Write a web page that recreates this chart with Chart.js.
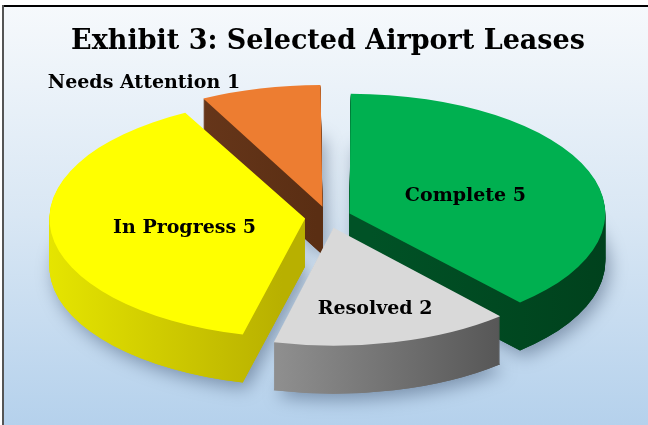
<!DOCTYPE html>
<html><head><meta charset="utf-8">
<style>html,body{margin:0;padding:0;background:#fff;overflow:hidden}canvas{display:block}</style>
<script src="https://cdn.jsdelivr.net/npm/chart.js@4.4.1/dist/chart.umd.min.js"></script>
</head><body>
<canvas id="c" width="648" height="425"></canvas>
<script>
// ---- data ----
const categories = ['Complete', 'Resolved', 'In Progress', 'Needs Attention'];
const leaseCounts = [5, 2, 5, 1];
const titleText = 'Exhibit 3: Selected Airport Leases';

// ---- style ----
const topColors = ['#00b050', '#d9d9d9', '#ffff00', '#ed7d31'];
const sideColors = [['#005226', '#00401c'], ['#8e8e8e', '#565656'], ['#e8e800', '#b8b000'], ['#66361a', '#5a2e13']];
const labelRadius = [0.5, 0.7, 0.49, null];
const FONT = '"DejaVu Serif"';
const DEPTH = 48, SQUASH = 0.468;

function midAngle(el) { return (el.startAngle + el.endAngle) / 2; }
function explode(el) { return (el.options.offset || 0) / 4; }
function squash(ctx, cx, cy) { ctx.translate(cx, cy); ctx.scale(1, SQUASH); ctx.translate(-cx, -cy); }

const bgPlugin = {
  id: 'bg',
  beforeDraw(chart) {
    const ctx = chart.ctx, w = chart.width, h = chart.height;
    ctx.save();
    ctx.fillStyle = '#fff'; ctx.fillRect(0, 0, w, h);
    const g = ctx.createLinearGradient(0, 6, 0, h);
    g.addColorStop(0, '#f6f9fc'); g.addColorStop(0.5, '#d9e7f4'); g.addColorStop(1, '#b5d1ec');
    ctx.fillStyle = g; ctx.fillRect(2, 5, w - 2, h - 5);
    ctx.fillStyle = '#000'; ctx.fillRect(2, 5, w - 2, 2);
    ctx.fillStyle = '#555'; ctx.fillRect(2, 5, 2, h - 5);
    ctx.restore();
  }
};

const pie3d = {
  id: 'pie3d',
  beforeDatasetsDraw(chart) {
    const ctx = chart.ctx;
    const els = chart.getDatasetMeta(0).data;
    const cx = els[0].x, cy = els[0].y;
    const fakes = els.map((el, i) => {
      const e = explode(el), m = midAngle(el);
      const ox = el.x + Math.cos(m) * e;
      let xmin = ox, xmax = ox;
      for (let k = 0; k <= 40; k++) {
        const a = el.startAngle + (el.endAngle - el.startAngle) * k / 40;
        const x = ox + Math.cos(a) * el.outerRadius;
        xmin = Math.min(xmin, x); xmax = Math.max(xmax, x);
      }
      const g = ctx.createLinearGradient(xmin, 0, xmax, 0);
      g.addColorStop(0, sideColors[i][0]); g.addColorStop(1, sideColors[i][1]);
      const f = Object.create(el);
      f.options = Object.assign({}, el.options, { backgroundColor: g, borderWidth: 0 });
      return f;
    });
    const order = els.map((el, i) => i).sort((a, b) => Math.sin(midAngle(els[a])) - Math.sin(midAngle(els[b])));
    for (const i of order) {
      ctx.save();
      ctx.shadowColor = 'rgba(40,60,90,0.45)'; ctx.shadowBlur = 18; ctx.shadowOffsetX = 4; ctx.shadowOffsetY = 6;
      ctx.translate(0, DEPTH); squash(ctx, cx, cy);
      fakes[i].draw(ctx);
      ctx.restore();
    }
    for (const i of order) {
      for (let d = DEPTH; d >= 1; d--) {
        ctx.save(); ctx.translate(0, d); squash(ctx, cx, cy);
        fakes[i].draw(ctx);
        ctx.restore();
      }
    }
    ctx.save();
    squash(ctx, cx, cy);
  },
  afterDatasetsDraw(chart) { chart.ctx.restore(); }
};

const labelPlugin = {
  id: 'sliceLabels',
  afterDraw(chart) {
    const ctx = chart.ctx;
    const els = chart.getDatasetMeta(0).data;
    const cy = els[0].y;
    const size = 19;
    ctx.save();
    ctx.font = 'bold ' + size + 'px ' + FONT;
    ctx.fillStyle = '#000';
    ctx.textBaseline = 'alphabetic';
    els.forEach((el, i) => {
      const text = categories[i] + ' ' + leaseCounts[i];
      const m = midAngle(el), e = explode(el);
      if (labelRadius[i] !== null) {
        const r = e + labelRadius[i] * el.outerRadius;
        const x = el.x + Math.cos(m) * r;
        const y = cy + Math.sin(m) * r * SQUASH;
        ctx.textAlign = 'center';
        ctx.fillText(text, x, y + size * 0.36 + 1);
      } else {
        const r = e + el.outerRadius;
        const x = el.x + Math.cos(m) * r - 23;
        const y = cy + Math.sin(m) * r * SQUASH - 13;
        ctx.textAlign = 'right';
        ctx.fillText(text, x, y + size * 0.36);
      }
    });
    ctx.restore();
  }
};

new Chart(document.getElementById('c'), {
  type: 'pie',
  data: {
    labels: categories,
    datasets: [{ data: leaseCounts, backgroundColor: topColors, borderWidth: 0, offset: 92, hoverOffset: 0, clip: false }]
  },
  options: {
    responsive: false, animation: false, events: [],
    radius: 248,
    layout: { padding: { left: 8, right: 0, top: 0, bottom: 53 } },
    plugins: {
      legend: { display: false }, tooltip: { enabled: false },
      title: { display: true, text: titleText, color: '#000',
        font: { family: FONT, size: 27, weight: 'bold' }, padding: { top: 26, bottom: 4 } }
    }
  },
  plugins: [bgPlugin, pie3d, labelPlugin]
});
</script>
</body></html>
